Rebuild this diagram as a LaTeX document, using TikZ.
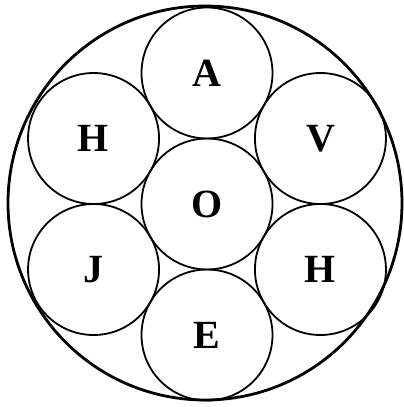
\documentclass[tikz,border=0pt]{standalone}
\usepackage{fontspec}
\setmainfont{Liberation Serif}
\usepackage{tikz}

\begin{document}
\begin{tikzpicture}[
    x=1pt, y=1pt,
    ring/.style={circle, draw, line width=2.8pt, minimum size=394pt, inner sep=0pt},
    cell/.style={circle, draw, line width=1.8pt, minimum size=131pt, inner sep=0pt,
        font=\fontsize{40}{40}\selectfont\bfseries},
]
\useasboundingbox (0,0) rectangle (404,-407);

% outer ring
\node[ring] (rim) at (205,-203) {};

% centre cell
\node[cell] (o) at (207,-204) {O};

% six cells round the centre
\node[cell] (a)  at ([shift={(90:131)}]o.center)  {A};
\node[cell] (v)  at ([shift={(30:131)}]o.center)  {V};
\node[cell] (h2) at ([shift={(-30:131)}]o.center) {H};
\node[cell] (e)  at ([shift={(-90:131)}]o.center) {E};
\node[cell] (j)  at ([shift={(-150:131)}]o.center) {J};
\node[cell] (h1) at ([shift={(150:131)}]o.center) {H};

\end{tikzpicture}
\end{document}
